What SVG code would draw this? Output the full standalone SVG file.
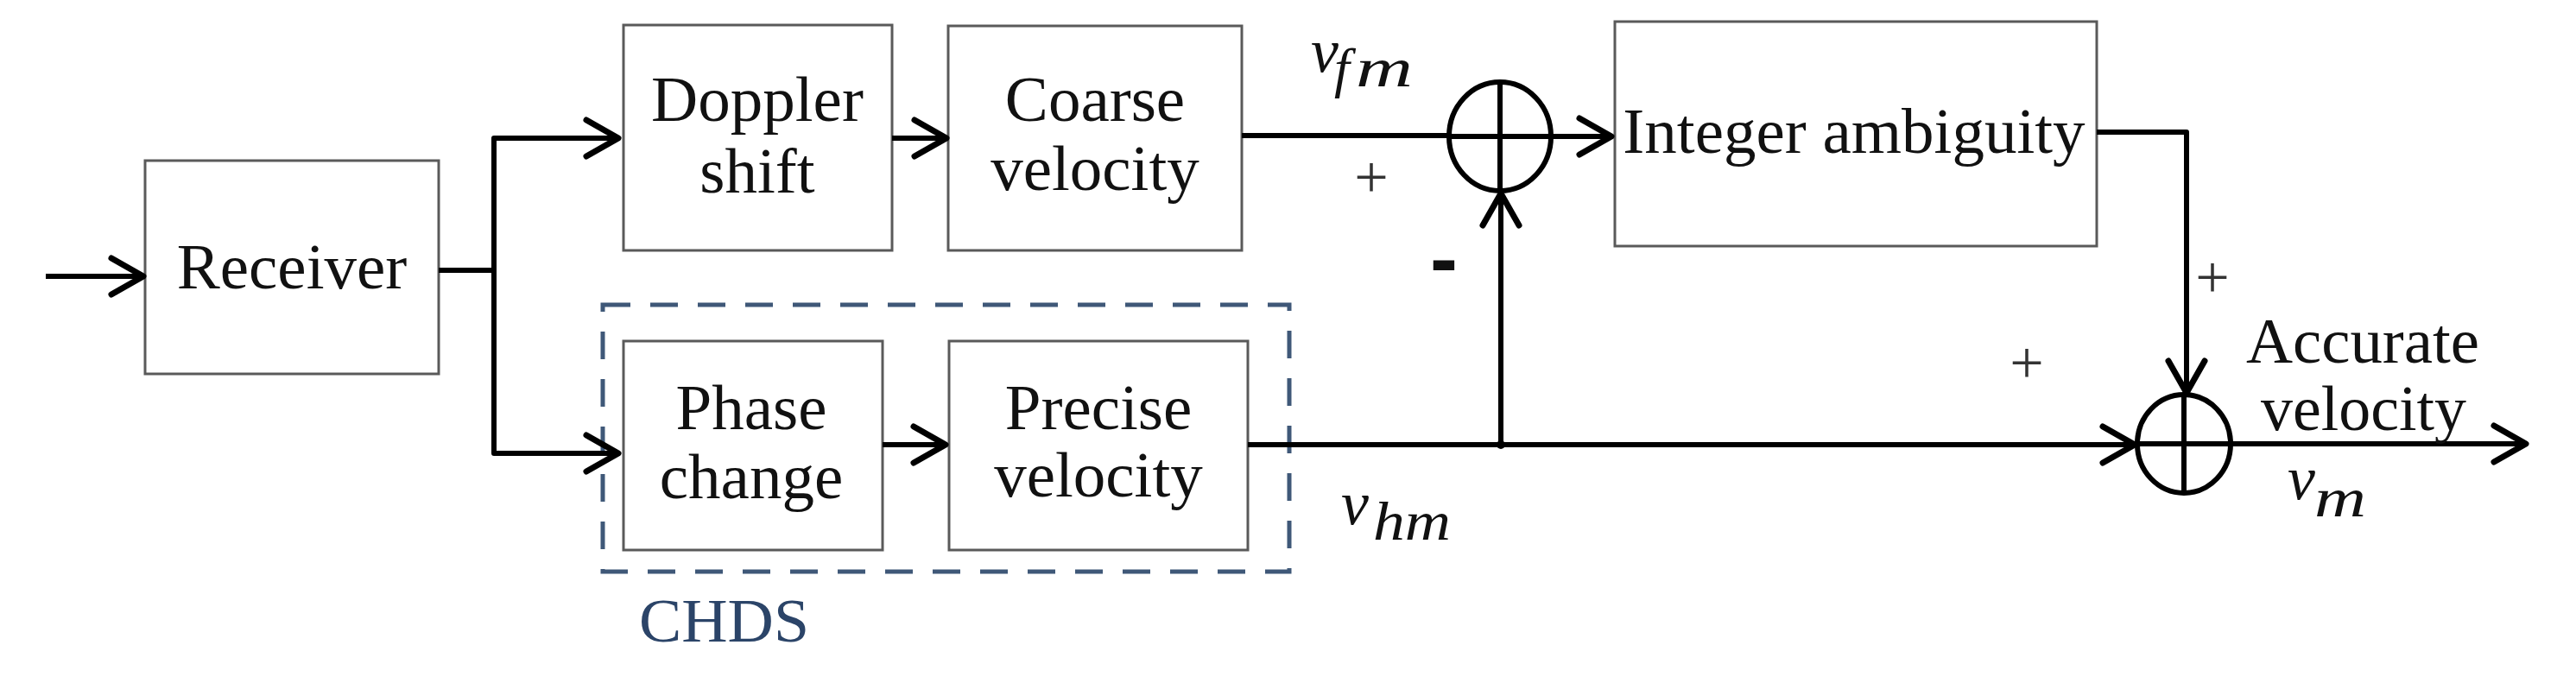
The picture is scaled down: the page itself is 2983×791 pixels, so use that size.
<svg xmlns="http://www.w3.org/2000/svg" width="2983" height="791" viewBox="0 0 2983 791">
<defs>
<style>
.box{fill:#fff;stroke:#5a5a5a;stroke-width:3}
.lbl{font-family:"Liberation Serif","Times New Roman",serif;font-size:75px;fill:#111;text-anchor:middle}
.math{font-family:"Liberation Serif","Times New Roman",serif;font-style:italic;fill:#111}
.pm{font-family:"Liberation Serif","Times New Roman",serif;font-size:70px;fill:#333;text-anchor:middle}
.wire{fill:none;stroke:#000;stroke-width:6;stroke-linejoin:round}
.sum{fill:none;stroke:#000;stroke-width:6}
</style>
<marker id="arr" markerUnits="userSpaceOnUse" markerWidth="60" markerHeight="60" viewBox="-45 -30 50 60" refX="0" refY="0" orient="auto" overflow="visible">
<path d="M-37,-21 L0,0 L-37,21" fill="none" stroke="#000" stroke-width="7" stroke-linecap="round" stroke-linejoin="round"/>
</marker>
</defs>
<rect width="2983" height="791" fill="#fff"/>

<g id="chds">
<rect x="698" y="353" width="795" height="309" fill="none" stroke="#3f5878" stroke-width="5" stroke-dasharray="32 23"/>
<text x="740" y="743" font-family="'Liberation Serif','Times New Roman',serif" font-size="72" fill="#2b4468" textLength="197" lengthAdjust="spacingAndGlyphs">CHDS</text>
</g>

<g id="receiver">
<rect class="box" x="168" y="186" width="340" height="247"/>
<text class="lbl" x="338" y="334">Receiver</text>
</g>
<g id="doppler">
<rect class="box" x="722" y="29" width="311" height="261"/>
<text class="lbl" x="877" y="140">Doppler</text>
<text class="lbl" x="877" y="223">shift</text>
</g>
<g id="coarse">
<rect class="box" x="1098" y="30" width="340" height="260"/>
<text class="lbl" x="1268" y="140">Coarse</text>
<text class="lbl" x="1268" y="220">velocity</text>
</g>
<g id="phase">
<rect class="box" x="722" y="395" width="300" height="242"/>
<text class="lbl" x="870" y="497">Phase</text>
<text class="lbl" x="870" y="577">change</text>
</g>
<g id="precise">
<rect class="box" x="1099" y="395" width="346" height="242"/>
<text class="lbl" x="1272" y="497">Precise</text>
<text class="lbl" x="1272" y="575">velocity</text>
</g>
<g id="integer">
<rect class="box" x="1870" y="25" width="558" height="260"/>
<text class="lbl" x="2147" y="177">Integer ambiguity</text>
</g>
<g id="sum1">
<ellipse class="sum" cx="1737" cy="158" rx="59" ry="63"/>
<path class="sum" d="M1737,95 V221 M1678,158 H1796"/>
</g>
<g id="sum2">
<ellipse class="sum" cx="2529" cy="514" rx="54" ry="57"/>
<path class="sum" d="M2529,457 V571 M2475,514 H2583"/>
</g>

<g id="connectors">
<path class="wire" d="M53,320 H166" marker-end="url(#arr)"/>
<path class="wire" d="M508,313 H572 V160 H716" marker-end="url(#arr)"/>
<path class="wire" d="M572,313 V525 H716" marker-end="url(#arr)"/>
<path class="wire" d="M1033,160 H1096" marker-end="url(#arr)"/>
<path class="wire" d="M1438,157 H1680"/>
<path class="wire" d="M1796,158 H1866" marker-end="url(#arr)"/>
<path class="wire" d="M1022,515 H1095" marker-end="url(#arr)"/>
<path class="wire" d="M1445,515 H2472" marker-end="url(#arr)"/>
<path class="wire" d="M1738,515 V224" marker-end="url(#arr)"/>
<circle cx="1738" cy="515" r="5" fill="#000"/>
<path class="wire" d="M2428,153 H2532 V455" marker-end="url(#arr)"/>
<path class="wire" d="M2583,514 H2925" marker-end="url(#arr)"/>
</g>

<g id="labels">
<text class="math" y="83"><tspan x="1518" font-size="72">v</tspan><tspan x="1545" y="100" font-size="64">f</tspan><tspan x="1570" y="100" font-size="64" textLength="66" lengthAdjust="spacingAndGlyphs">m</tspan></text>
<text class="math" y="607"><tspan x="1553" font-size="72">v</tspan><tspan x="1590" y="625" font-size="64" textLength="90" lengthAdjust="spacingAndGlyphs">hm</tspan></text>
<text class="math" y="578"><tspan x="2649" font-size="72">v</tspan><tspan x="2680" y="598" font-size="64" textLength="60" lengthAdjust="spacingAndGlyphs">m</tspan></text>
<text class="pm" x="1588" y="229">+</text>
<text class="pm" x="2562" y="345">+</text>
<text class="pm" x="2347" y="444">+</text>
<text x="1656" y="332" font-family="'Liberation Sans',Arial,sans-serif" font-weight="bold" font-size="96" fill="#111">-</text>
<text class="lbl" x="2736" y="420" font-size="70" textLength="270" lengthAdjust="spacingAndGlyphs">Accurate</text>
<text class="lbl" x="2737" y="498" font-size="70" textLength="238" lengthAdjust="spacingAndGlyphs">velocity</text>
</g>
</svg>
